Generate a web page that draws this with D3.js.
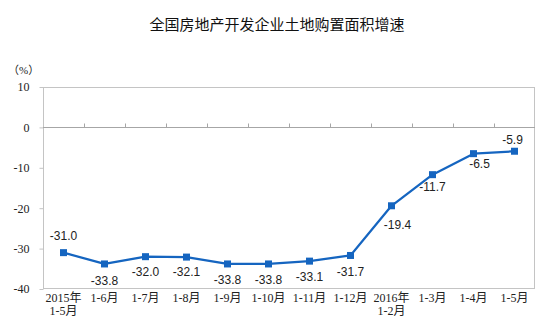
<!DOCTYPE html>
<html>
<head>
<meta charset="utf-8">
<script src="https://cdn.jsdelivr.net/npm/d3@7"></script>
<style>
  html, body { margin: 0; padding: 0; background: #fff; }
  svg { display: block; }
</style>
</head>
<body>
<svg id="chart" width="554" height="336"></svg>
<script>
// 全国房地产开发企业土地购置面积增速（累计，%）
const categories = [
  ["2015年", "1-5月"], ["1-6月"], ["1-7月"], ["1-8月"], ["1-9月"], ["1-10月"],
  ["1-11月"], ["1-12月"], ["2016年", "1-2月"], ["1-3月"], ["1-4月"], ["1-5月"]
];
const growth = [-31.0, -33.8, -32.0, -32.1, -33.8, -33.8, -33.1, -31.7, -19.4, -11.7, -6.5, -5.9];
const yTicks = [10, 0, -10, -20, -30, -40];
const titleText = "全国房地产开发企业土地购置面积增速";
const unitText = "（%）";

// label placement relative to each marker: [dx, dy of text centre]
const labelOffset = [
  [0, -16.5], [0, 16.5], [0, 15.5], [0, 15], [0, 15.5], [0, 15.5],
  [0, 15.5], [0, 16.5], [6, 19.5], [0, 12], [6, 10], [-2, -11.5]
];

const svg = d3.select("#chart");
const plot = { left: 43, right: 535, top: 87, bottom: 289 };
const lineColor = "#1565c0";
const fmtTick = d => String(d);          // plain hyphen-minus
const fmtValue = d => d.toFixed(1);

const x = d3.scaleBand()
  .domain(d3.range(categories.length))
  .range([plot.left, plot.right]);
const y = d3.scaleLinear()
  .domain([-40, 10])
  .range([plot.bottom, plot.top]);

// title
svg.append("text")
  .attr("x", 277).attr("y", 30)
  .attr("text-anchor", "middle")
  .attr("font-family", "'Noto Sans CJK SC', sans-serif")
  .attr("font-size", 15)
  .attr("fill", "#111")
  .text(titleText);

// unit
svg.append("text")
  .attr("x", 8).attr("y", 74)
  .attr("font-family", "'Liberation Serif', 'Noto Sans CJK SC', serif")
  .attr("font-size", 11)
  .attr("fill", "#222")
  .text(unitText);

// plot frame
svg.append("rect")
  .attr("x", plot.left + 0.5).attr("y", plot.top + 0.5)
  .attr("width", plot.right - plot.left - 1)
  .attr("height", plot.bottom - plot.top - 1)
  .attr("fill", "none")
  .attr("stroke", "#c4c4c4")
  .attr("stroke-width", 1);

// y axis: outward ticks on the left edge, labels only
const yAxis = d3.axisLeft(y)
  .tickValues(yTicks)
  .tickSize(4)
  .tickPadding(10)
  .tickFormat(fmtTick);
const gy = svg.append("g")
  .attr("transform", `translate(${plot.left + 0.5},0)`)
  .call(yAxis);
gy.select(".domain").remove();
gy.selectAll(".tick line").attr("stroke", "#c4c4c4");
gy.selectAll(".tick text")
  .attr("font-family", "'Liberation Serif', serif")
  .attr("font-size", 12)
  .attr("fill", "#222");

// zero line with category boundary ticks pointing up
const zeroY = Math.round(y(0)) + 0.5;
svg.append("line")
  .attr("x1", plot.left).attr("x2", plot.right)
  .attr("y1", zeroY).attr("y2", zeroY)
  .attr("stroke", "#a6a6a6");
svg.append("g")
  .selectAll("line")
  .data(d3.range(1, categories.length))
  .join("line")
  .attr("x1", i => Math.round(x(i)) + 0.5)
  .attr("x2", i => Math.round(x(i)) + 0.5)
  .attr("y1", zeroY).attr("y2", zeroY - 4)
  .attr("stroke", "#a6a6a6");

// category labels below the plot
const catG = svg.append("g")
  .attr("font-family", "'Liberation Serif', 'Noto Sans CJK SC', serif")
  .attr("font-size", 12)
  .attr("fill", "#222")
  .attr("text-anchor", "middle");
categories.forEach((lines, i) => {
  const t = catG.append("text")
    .attr("x", x(i) + x.bandwidth() / 2)
    .attr("y", 302);
  lines.forEach((s, k) => {
    t.append("tspan")
      .attr("x", x(i) + x.bandwidth() / 2)
      .attr("dy", k === 0 ? 0 : 13)
      .text(s);
  });
});

// series line
const cx = i => x(i) + x.bandwidth() / 2;
const line = d3.line()
  .x((d, i) => cx(i))
  .y(d => y(d));
svg.append("path")
  .datum(growth)
  .attr("fill", "none")
  .attr("stroke", lineColor)
  .attr("stroke-width", 2.25)
  .attr("stroke-linejoin", "round")
  .attr("d", line);

// square markers
svg.append("g")
  .selectAll("rect")
  .data(growth)
  .join("rect")
  .attr("x", (d, i) => cx(i) - 3.5)
  .attr("y", d => y(d) - 3.5)
  .attr("width", 7).attr("height", 7)
  .attr("fill", lineColor);

// value labels
svg.append("g")
  .attr("font-family", "'Liberation Sans', Arial, sans-serif")
  .attr("font-size", 12)
  .attr("fill", "#222")
  .attr("text-anchor", "middle")
  .selectAll("text")
  .data(growth)
  .join("text")
  .attr("x", (d, i) => cx(i) + labelOffset[i][0])
  .attr("y", (d, i) => y(d) + labelOffset[i][1])
  .attr("dy", "0.35em")
  .text(fmtValue);
</script>
</body>
</html>
